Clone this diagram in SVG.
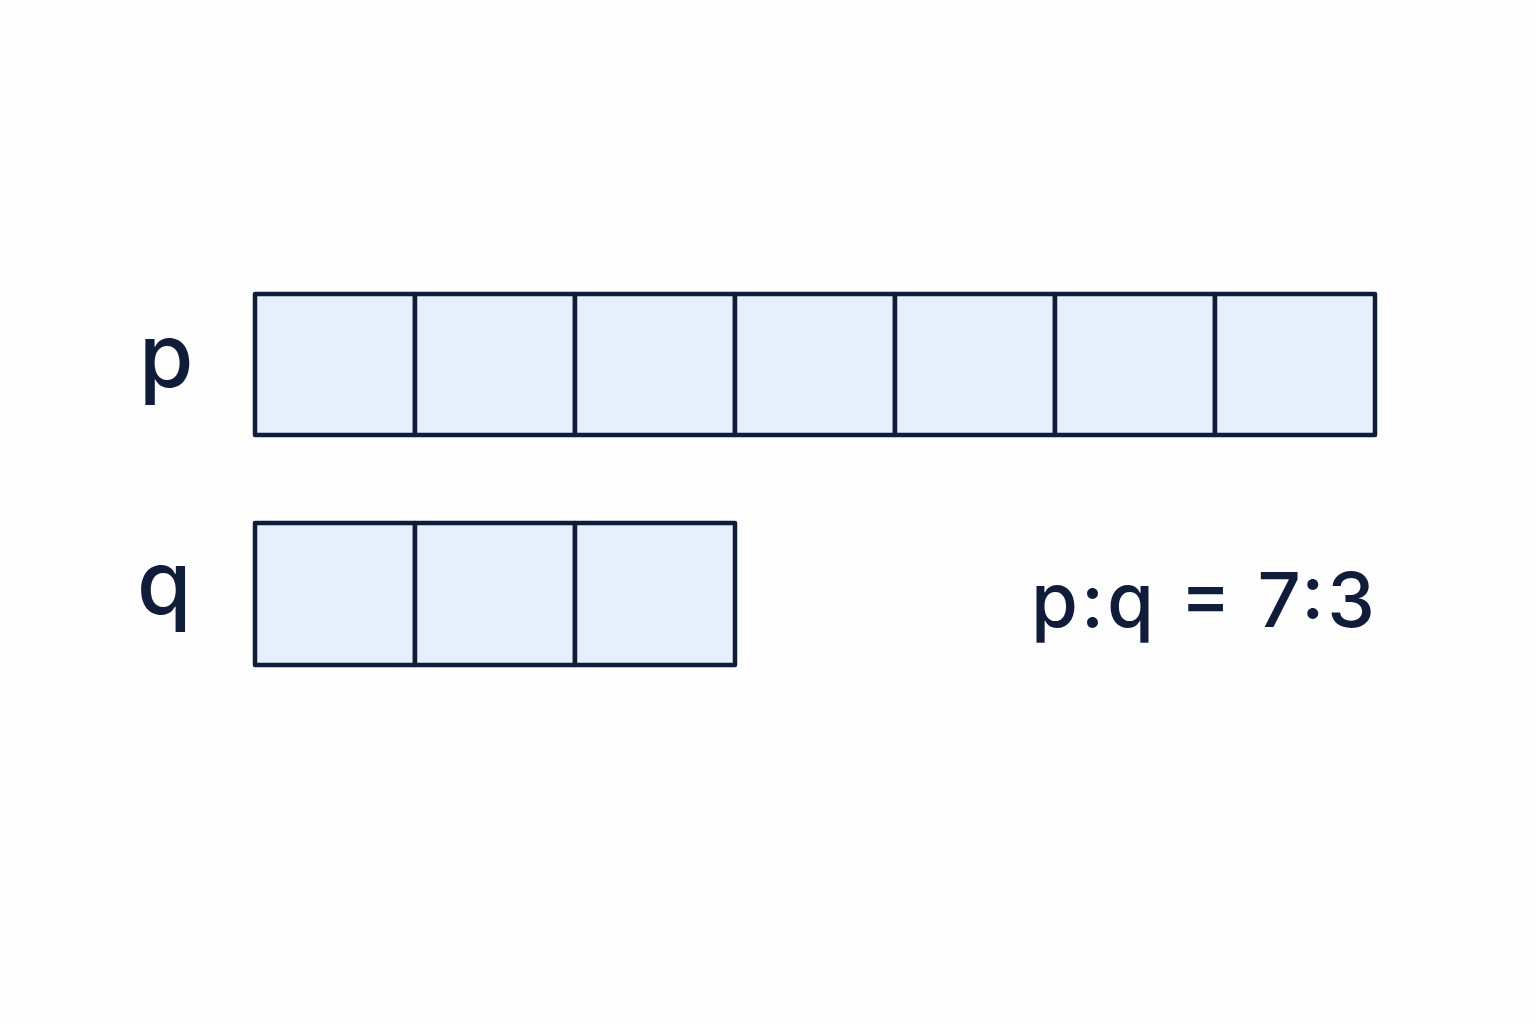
<svg xmlns="http://www.w3.org/2000/svg" width="1536" height="1024" viewBox="0 0 1536 1024">
<style>
.cell{fill:#e6f0fc;stroke:#0f1d3a;stroke-width:4.5;stroke-linejoin:round}
.lbl{font-family:Inter,"Noto Sans",sans-serif;fill:#0f1d3a}
</style>
<rect width="1536" height="1024" fill="#fdfdfd"/>
<g id="p-label"><text class="lbl" x="139" y="387" font-size="88" font-weight="500">p</text></g>
<g id="q-label"><text class="lbl" x="137" y="614" font-size="88" font-weight="500">q</text></g>
<g id="p-bar">
<rect class="cell" x="255" y="294" width="160" height="141"/>
<rect class="cell" x="415" y="294" width="160" height="141"/>
<rect class="cell" x="575" y="294" width="160" height="141"/>
<rect class="cell" x="735" y="294" width="160" height="141"/>
<rect class="cell" x="895" y="294" width="160" height="141"/>
<rect class="cell" x="1055" y="294" width="160" height="141"/>
<rect class="cell" x="1215" y="294" width="160" height="141"/>
</g>
<g id="q-bar">
<rect class="cell" x="255" y="523" width="160" height="142"/>
<rect class="cell" x="415" y="523" width="160" height="142"/>
<rect class="cell" x="575" y="523" width="160" height="142"/>
</g>
<g id="ratio"><text class="lbl" x="1031" y="627" font-size="76" font-weight="500" textLength="344" lengthAdjust="spacing">p:q = 7:3</text></g>
<g id="connectors"/>
</svg>
